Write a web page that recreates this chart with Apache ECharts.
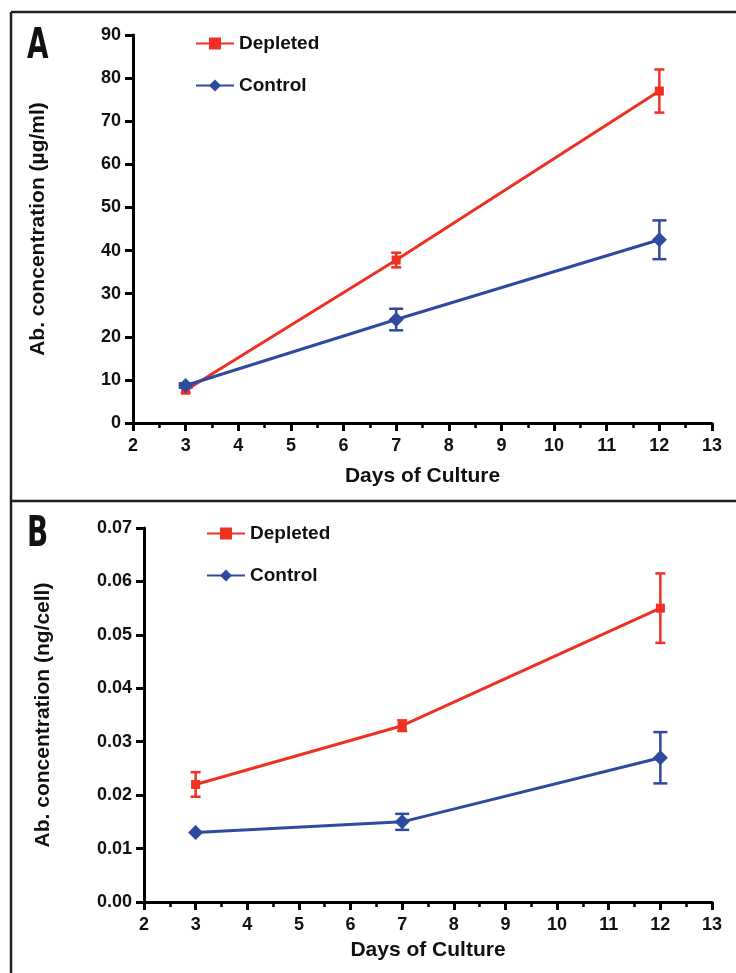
<!DOCTYPE html>
<html><head><meta charset="utf-8">
<script src="https://cdn.jsdelivr.net/npm/echarts@6/dist/echarts.min.js"></script>
<style>html,body{margin:0;padding:0;background:#fff}#c{width:736px;height:973px}</style>
</head><body><div id="c"></div>
<script>
const days = [3, 7, 12];
// Panel A: Ab. concentration (µg/ml)
const depletedA = [7.6, 37.8, 77.0];
const depletedAErr = [0.6, 1.7, 5.0];
const controlA = [8.7, 24.0, 42.5];
const controlAErr = [0.5, 2.5, 4.5];
// Panel B: Ab. concentration (ng/cell)
const depletedB = [0.022, 0.033, 0.055];
const depletedBErr = [0.0023, 0.001, 0.0065];
const controlB = [0.013, 0.015, 0.027];
const controlBErr = [0.0, 0.0015, 0.0048];

const RED = '#EE3124', BLUE = '#2E4A9E';
const FONT = '"Liberation Sans", Arial, sans-serif';
const NARROW = '"Liberation Sans Narrow", "DejaVu Sans Condensed", sans-serif';

function pts(v){ return days.map((d,i)=>[d, v[i]]); }
function errs(v,e){ return days.map((d,i)=>[d, v[i]-e[i], v[i]+e[i]]); }

function errSeries(data, color, cap, xi, yi){
  return {
    type:'custom', xAxisIndex:xi, yAxisIndex:yi, z:3, silent:true,
    data: data.filter(d=>d[2]-d[1] > 0),
    renderItem(params, api){
      const x = api.value(0);
      const lo = api.coord([x, api.value(1)]);
      const hi = api.coord([x, api.value(2)]);
      const st = {stroke:color, lineWidth:2.5};
      return {type:'group', children:[
        {type:'line', shape:{x1:lo[0],y1:lo[1],x2:hi[0],y2:hi[1]}, style:st},
        {type:'line', shape:{x1:lo[0]-cap,y1:lo[1],x2:lo[0]+cap,y2:lo[1]}, style:st},
        {type:'line', shape:{x1:hi[0]-cap,y1:hi[1],x2:hi[0]+cap,y2:hi[1]}, style:st}
      ]};
    }
  };
}

function xAx(gi, gap){
  return {
    type:'value', gridIndex:gi, min:2, max:13, interval:1,
    name:'Days of Culture', nameLocation:'middle', nameGap:gap,
    nameTextStyle:{fontFamily:FONT, fontWeight:'bold', fontSize:21, color:'#111'},
    axisLine:{show:true, lineStyle:{color:'#000', width:3}},
    axisTick:{show:true, length:8, lineStyle:{color:'#000', width:3}},
    minorTick:{show:true, splitNumber:2, length:5, lineStyle:{color:'#000', width:2.5}},
    axisLabel:{fontFamily:FONT, fontWeight:'bold', fontSize:18, color:'#111', margin:14},
    splitLine:{show:false}
  };
}
function yAx(gi, max, interval, name, fmt, gap){
  return {
    type:'value', gridIndex:gi, min:0, max:max, interval:interval,
    name:name, nameLocation:'middle', nameGap:gap,
    nameTextStyle:{fontFamily:FONT, fontWeight:'bold', fontSize:21, color:'#111'},
    axisLine:{show:true, lineStyle:{color:'#000', width:3}},
    axisTick:{show:true, length:8, lineStyle:{color:'#000', width:3}},
    axisLabel:{fontFamily:FONT, fontWeight:'bold', fontSize:18, color:'#111', margin:12, formatter:fmt},
    splitLine:{show:false}
  };
}
function lineS(name, data, color, symbol, size, xi, yi){
  return {
    type:'line', name:name, xAxisIndex:xi, yAxisIndex:yi, z:5,
    data:data, symbol:symbol, symbolSize:size, showSymbol:true,
    lineStyle:{color:color, width:3}, itemStyle:{color:color},
    emphasis:{disabled:true}, animation:false
  };
}
function legendAt(left, top){
  return {
    left:left, top:top, orient:'vertical', itemGap:23, itemWidth:38, itemHeight:15,
    selectedMode:false,
    textStyle:{fontFamily:FONT, fontWeight:'bold', fontSize:19, color:'#111'},
    data:['Depleted','Control']
  };
}

const chart = echarts.init(document.getElementById('c'), null, {renderer:'canvas'});
chart.setOption({
  animation:false,
  backgroundColor:'#fff',
  grid:[
    {left:133, right:24, top:35, bottom:550},
    {left:144, right:24, top:528, bottom:71}
  ],
  xAxis:[xAx(0, 43), xAx(1, 38)],
  yAxis:[
    yAx(0, 90, 10, 'Ab. concentration (µg/ml)', v=>String(v), 84),
    yAx(1, 0.07, 0.01, 'Ab. concentration (ng/cell)', v=>v.toFixed(2), 90)
  ],
  legend:[legendAt(190, 29), legendAt(201, 519)],
  series:[
    errSeries(errs(depletedA, depletedAErr), RED, 5, 0, 0),
    errSeries(errs(controlA, controlAErr), BLUE, 7, 0, 0),
    lineS('Depleted', pts(depletedA), RED, 'rect', 9, 0, 0),
    lineS('Control', pts(controlA), BLUE, 'diamond', 15, 0, 0),
    errSeries(errs(depletedB, depletedBErr), RED, 5, 1, 1),
    errSeries(errs(controlB, controlBErr), BLUE, 7, 1, 1),
    lineS('Depleted', pts(depletedB), RED, 'rect', 9, 1, 1),
    lineS('Control', pts(controlB), BLUE, 'diamond', 15, 1, 1)
  ],
  graphic:[
    {type:'line', shape:{x1:11, y1:12, x2:736, y2:12}, style:{stroke:'#231f20', lineWidth:2.5}},
    {type:'line', shape:{x1:11, y1:12, x2:11, y2:973}, style:{stroke:'#231f20', lineWidth:2.5}},
    {type:'line', shape:{x1:11, y1:501, x2:736, y2:501}, style:{stroke:'#231f20', lineWidth:2.5}},
    {type:'text', x:27, y:25, scaleX:0.72, style:{text:'A', fontFamily:NARROW, fontWeight:'bold', fontSize:43, fill:'#111'}},
    {type:'text', x:27, y:513, scaleX:0.72, style:{text:'B', fontFamily:NARROW, fontWeight:'bold', fontSize:43, fill:'#111'}}
  ]
});
</script></body></html>
